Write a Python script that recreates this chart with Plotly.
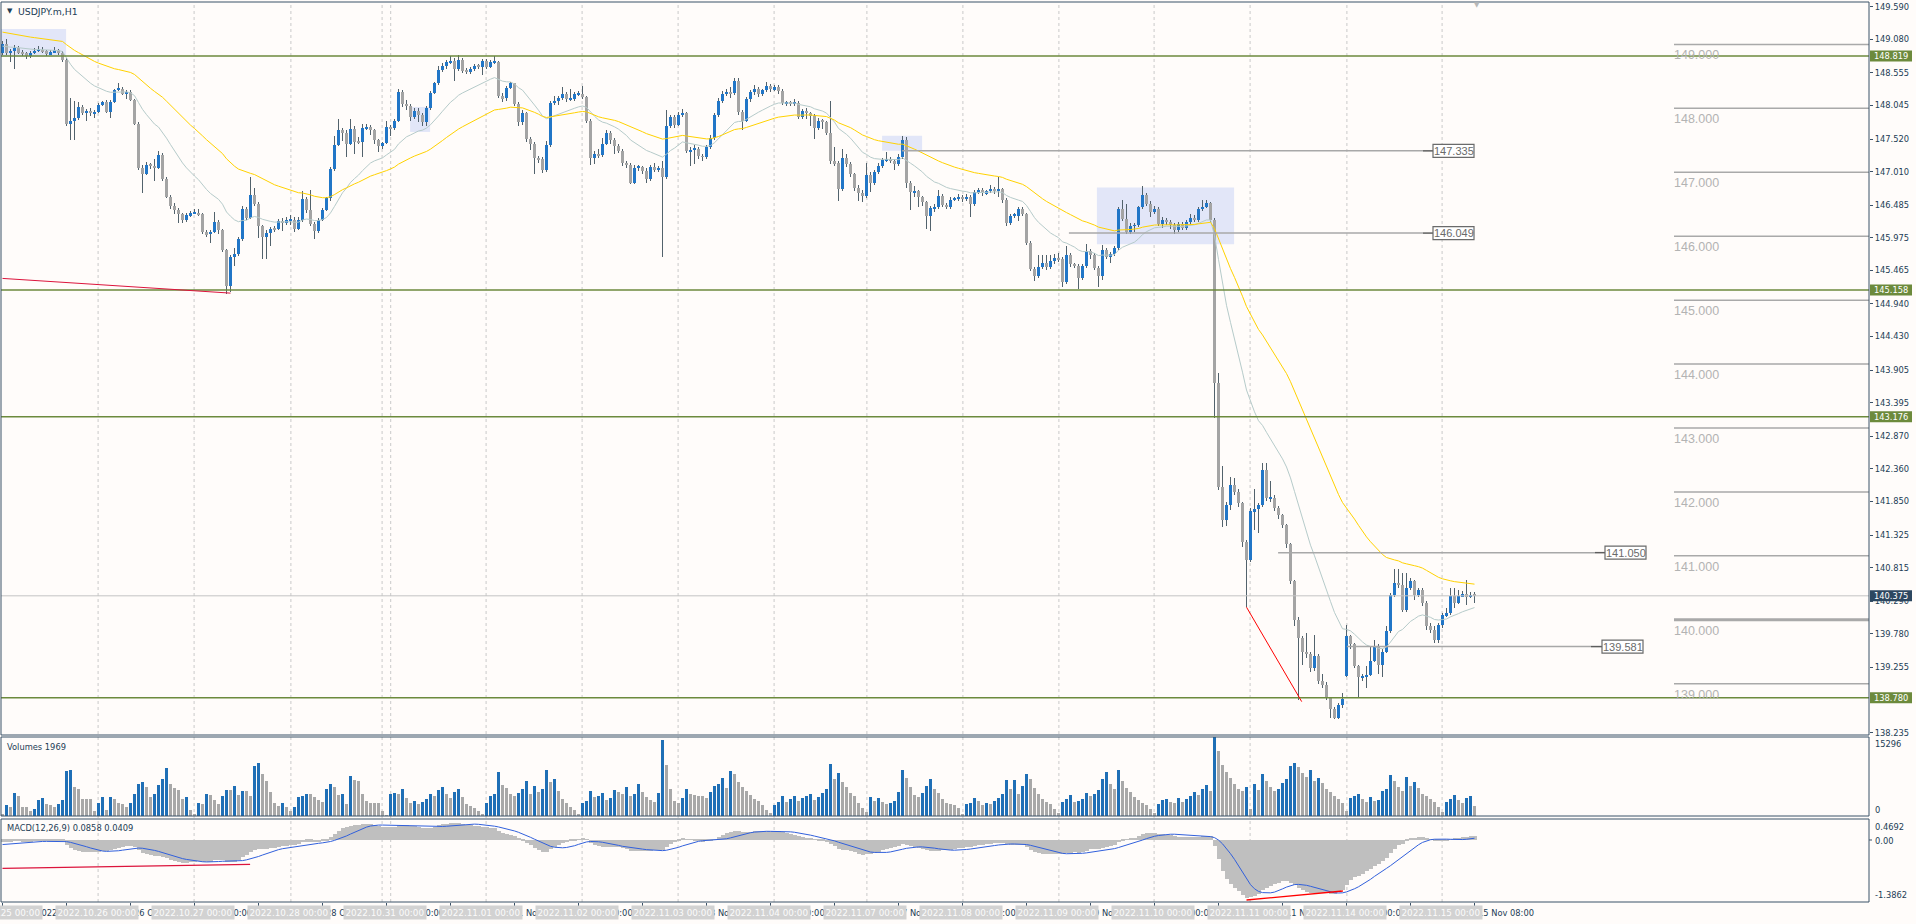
import plotly.graph_objects as go

# ------------------------------------------------------------------ data
trade_days = ["2022-10-25", "2022-10-26", "2022-10-27", "2022-10-28", "2022-10-31",
              "2022-11-01", "2022-11-02", "2022-11-03", "2022-11-04", "2022-11-07",
              "2022-11-08", "2022-11-09", "2022-11-10", "2022-11-11", "2022-11-14",
              "2022-11-15"]
bars_per_day = 24
symbol_title = "USDJPY.m,H1"

first_open = 148.87
open_gaps = {336: 139.12}

close = [
    149.00, 148.87, 148.90, 148.94, 148.87, 148.86, 148.82, 148.87, 148.90, 148.92, 148.89, 148.85,
    148.88, 148.91, 148.86, 148.75, 147.76, 147.81, 147.85, 148.02, 147.93, 147.96, 147.92, 147.95,
    148.05, 148.10, 147.95, 148.10, 148.29, 148.30, 148.23, 148.26, 148.13, 147.76, 147.07, 146.97,
    147.12, 147.10, 147.07, 147.27, 146.89, 146.62, 146.48, 146.41, 146.34, 146.25, 146.33, 146.36,
    146.37, 146.34, 146.06, 146.03, 146.07, 146.23, 146.10, 145.78, 145.22, 145.68, 145.72, 145.95,
    146.43, 146.29, 146.64, 146.51, 146.16, 145.98, 146.05, 146.12, 146.11, 146.24, 146.20, 146.25,
    146.26, 146.12, 146.25, 146.58, 146.41, 146.19, 146.08, 146.26, 146.41, 146.59, 147.05, 147.43,
    147.66, 147.62, 147.45, 147.68, 147.48, 147.47, 147.69, 147.71, 147.66, 147.50, 147.41, 147.46,
    147.71, 147.69, 147.80, 148.26, 148.07, 148.04, 147.86, 147.96, 147.90, 147.78, 148.00, 148.24,
    148.39, 148.60, 148.66, 148.72, 148.74, 148.62, 148.76, 148.59, 148.57, 148.62, 148.67, 148.65,
    148.74, 148.65, 148.72, 148.72, 148.19, 148.16, 148.32, 148.39, 148.07, 147.78, 147.92, 147.52,
    147.45, 147.22, 147.20, 147.03, 147.43, 148.09, 148.11, 148.16, 148.22, 148.14, 148.15, 148.22,
    148.23, 148.17, 147.81, 147.22, 147.29, 147.27, 147.45, 147.61, 147.50, 147.41, 147.33, 147.15,
    147.11, 146.84, 147.07, 147.08, 147.02, 146.89, 147.09, 147.04, 147.07, 146.93, 147.73, 147.87,
    147.74, 147.90, 147.92, 147.33, 147.35, 147.37, 147.25, 147.24, 147.39, 147.54, 147.89, 148.11,
    148.22, 148.26, 148.24, 148.43, 147.95, 147.81, 148.14, 148.25, 148.30, 148.22, 148.28, 148.35,
    148.30, 148.33, 148.27, 148.08, 148.09, 148.07, 148.09, 147.86, 147.96, 147.92, 147.88, 147.70,
    147.80, 147.79, 147.62, 147.17, 147.14, 146.74, 147.22, 147.13, 146.97, 146.76, 146.67, 146.63,
    146.96, 146.83, 147.00, 147.10, 147.19, 147.21, 147.17, 147.13, 147.24, 147.50, 146.84, 146.69,
    146.70, 146.61, 146.53, 146.31, 146.44, 146.45, 146.63, 146.49, 146.46, 146.57, 146.58, 146.62,
    146.58, 146.62, 146.50, 146.69, 146.72, 146.67, 146.70, 146.74, 146.70, 146.74, 146.57, 146.20,
    146.32, 146.32, 146.42, 146.35, 145.89, 145.49, 145.37, 145.52, 145.58, 145.52, 145.62, 145.66,
    145.64, 145.28, 145.71, 145.56, 145.54, 145.34, 145.54, 145.77, 145.70, 145.51, 145.37, 145.78,
    145.67, 145.72, 145.81, 146.42, 146.27, 146.07, 146.16, 146.17, 146.45, 146.65, 146.51, 146.38,
    146.43, 146.19, 146.26, 146.22, 146.17, 146.09, 146.19, 146.13, 146.22, 146.29, 146.25, 146.42,
    146.46, 146.52, 146.25, 143.70, 142.08, 141.56, 141.79, 142.11, 142.00, 141.82, 141.21, 140.94,
    141.70, 141.73, 141.79, 142.35, 141.90, 141.90, 141.75, 141.64, 141.48, 141.18, 140.60, 139.99,
    139.71, 139.49, 139.47, 139.24, 139.43, 139.05, 138.98, 138.78, 138.61, 138.47, 138.66, 138.76,
    139.75, 139.62, 139.27, 139.10, 139.12, 139.14, 139.36, 139.58, 139.29, 139.50, 139.82, 140.39,
    140.57, 140.55, 140.15, 140.49, 140.60, 140.39, 140.46, 140.26, 139.90, 139.84, 139.68, 139.92,
    140.07, 140.10, 140.37, 140.27, 140.37, 140.40, 140.37, 140.39, 140.375,
]

high = [
    149.05, 149.08, 148.93, 148.99, 148.98, 148.92, 148.88, 148.90, 148.94, 148.97, 148.96, 148.91,
    148.92, 148.96, 148.93, 148.89, 148.78, 148.16, 148.12, 148.10, 148.06, 147.99, 148.00, 147.98,
    148.08, 148.12, 148.13, 148.13, 148.31, 148.40, 148.33, 148.29, 148.28, 148.15, 147.78, 147.12,
    147.16, 147.15, 147.20, 147.34, 147.30, 146.92, 146.64, 146.52, 146.44, 146.36, 146.36, 146.40,
    146.43, 146.43, 146.37, 146.09, 146.09, 146.38, 146.25, 146.12, 145.80, 145.70, 145.82, 145.98,
    146.47, 146.45, 146.92, 146.76, 146.53, 146.18, 146.10, 146.15, 146.16, 146.27, 146.28, 146.30,
    146.33, 146.30, 146.30, 146.70, 146.62, 146.73, 146.22, 146.29, 146.44, 146.62, 147.08, 147.57,
    147.84, 147.70, 147.66, 147.84, 147.72, 147.55, 147.75, 147.75, 147.74, 147.68, 147.52, 147.48,
    147.80, 147.74, 147.84, 148.31, 148.28, 148.13, 148.07, 148.00, 148.00, 147.93, 148.04, 148.27,
    148.42, 148.66, 148.71, 148.76, 148.82, 148.78, 148.83, 148.78, 148.63, 148.65, 148.70, 148.70,
    148.77, 148.77, 148.76, 148.82, 148.74, 148.24, 148.35, 148.42, 148.40, 148.10, 147.98, 147.95,
    147.55, 147.48, 147.26, 147.24, 147.49, 148.12, 148.20, 148.20, 148.33, 148.25, 148.30, 148.26,
    148.27, 148.35, 148.20, 147.84, 147.33, 147.36, 147.54, 147.66, 147.64, 147.53, 147.44, 147.36,
    147.17, 147.14, 147.11, 147.12, 147.10, 147.06, 147.12, 147.14, 147.10, 147.17, 147.97, 147.90,
    147.90, 147.95, 147.99, 147.95, 147.40, 147.42, 147.40, 147.28, 147.42, 147.58, 147.92, 148.16,
    148.27, 148.30, 148.33, 148.47, 148.47, 147.97, 148.18, 148.29, 148.36, 148.33, 148.31, 148.41,
    148.38, 148.37, 148.36, 148.30, 148.12, 148.12, 148.14, 148.12, 147.99, 148.00, 147.94, 147.91,
    147.85, 147.83, 147.81, 148.12, 147.39, 147.18, 147.36, 147.28, 147.16, 146.99, 146.80, 146.72,
    147.15, 147.00, 147.03, 147.14, 147.22, 147.31, 147.24, 147.20, 147.28, 147.56, 147.55, 146.87,
    146.78, 146.73, 146.63, 146.55, 146.47, 146.50, 146.73, 146.66, 146.52, 146.61, 146.62, 146.66,
    146.65, 146.66, 146.64, 146.73, 146.76, 146.75, 146.73, 146.80, 146.77, 146.93, 146.76, 146.60,
    146.35, 146.36, 146.45, 146.45, 146.37, 145.92, 145.52, 145.71, 145.70, 145.70, 145.70, 145.72,
    145.73, 145.68, 145.85, 145.74, 145.58, 145.57, 145.57, 145.88, 145.80, 145.73, 145.54, 145.87,
    145.82, 145.76, 145.85, 146.45, 146.56, 146.51, 146.21, 146.20, 146.48, 146.78, 146.67, 146.55,
    146.48, 146.46, 146.30, 146.29, 146.25, 146.20, 146.22, 146.22, 146.25, 146.35, 146.33, 146.45,
    146.56, 146.57, 146.54, 146.28, 143.86, 142.40, 141.85, 142.23, 142.22, 142.05, 141.85, 141.25,
    141.75, 142.05, 141.83, 142.45, 142.45, 142.17, 141.95, 141.78, 141.66, 141.50, 141.20, 140.62,
    140.04, 139.75, 139.79, 139.50, 139.76, 139.46, 139.15, 139.02, 138.80, 138.63, 138.70, 138.85,
    139.92, 139.76, 139.64, 139.30, 139.16, 139.27, 139.58, 139.68, 139.62, 139.55, 139.90, 140.42,
    140.80, 140.80, 140.73, 140.73, 140.66, 140.63, 140.50, 140.49, 140.29, 139.95, 139.90, 139.95,
    140.10, 140.18, 140.49, 140.49, 140.47, 140.45, 140.63, 140.43, 140.44,
]

low = [
    148.84, 148.84, 148.73, 148.61, 148.85, 148.82, 148.77, 148.79, 148.85, 148.88, 148.86, 148.82,
    148.83, 148.86, 148.83, 148.72, 147.72, 147.50, 147.50, 147.82, 147.90, 147.80, 147.88, 147.85,
    147.93, 148.03, 147.93, 147.85, 148.08, 148.27, 148.21, 148.14, 148.11, 147.74, 147.04, 146.68,
    146.95, 147.05, 146.86, 147.05, 146.86, 146.59, 146.43, 146.34, 146.21, 146.21, 146.22, 146.30,
    146.34, 146.32, 146.03, 145.98, 145.90, 146.05, 146.04, 145.75, 145.09, 145.12, 145.53, 145.69,
    145.92, 146.26, 146.27, 146.48, 145.97, 145.64, 145.65, 145.85, 146.07, 146.09, 146.08, 146.17,
    146.17, 146.06, 146.10, 146.22, 146.37, 146.16, 145.96, 146.05, 146.24, 146.39, 146.55, 147.02,
    147.41, 147.49, 147.24, 147.43, 147.29, 147.44, 147.24, 147.66, 147.58, 147.45, 147.32, 147.37,
    147.44, 147.56, 147.66, 147.78, 148.02, 147.98, 147.80, 147.83, 147.78, 147.72, 147.72, 147.98,
    148.22, 148.37, 148.57, 148.61, 148.69, 148.43, 148.58, 148.55, 148.53, 148.54, 148.58, 148.61,
    148.52, 148.62, 148.63, 148.70, 148.16, 148.10, 148.12, 148.30, 148.04, 147.72, 147.74, 147.47,
    147.35, 146.97, 147.14, 146.99, 147.00, 147.40, 148.05, 148.06, 148.13, 148.10, 148.12, 148.12,
    148.19, 148.15, 147.77, 147.12, 147.13, 147.22, 147.24, 147.42, 147.45, 147.28, 147.30, 147.10,
    147.06, 146.82, 146.82, 147.02, 146.98, 146.84, 146.87, 147.00, 147.01, 145.68, 146.90, 147.70,
    147.70, 147.72, 147.86, 147.30, 147.10, 147.13, 147.20, 147.17, 147.21, 147.36, 147.50, 147.86,
    148.08, 148.19, 148.16, 148.21, 147.90, 147.66, 147.78, 148.10, 148.21, 148.18, 148.19, 148.25,
    148.26, 148.27, 148.23, 148.05, 148.04, 148.03, 148.04, 147.83, 147.83, 147.84, 147.73, 147.52,
    147.66, 147.68, 147.58, 147.13, 147.10, 146.55, 146.70, 147.08, 146.92, 146.71, 146.55, 146.54,
    146.60, 146.69, 146.80, 146.97, 147.07, 147.16, 147.14, 147.04, 147.10, 147.21, 146.76, 146.41,
    146.62, 146.46, 146.47, 146.11, 146.08, 146.38, 146.42, 146.45, 146.42, 146.43, 146.55, 146.55,
    146.54, 146.55, 146.30, 146.47, 146.66, 146.63, 146.64, 146.67, 146.66, 146.62, 146.52, 146.16,
    146.18, 146.28, 146.24, 146.32, 145.86, 145.45, 145.30, 145.34, 145.49, 145.47, 145.49, 145.56,
    145.60, 145.20, 145.25, 145.52, 145.50, 145.17, 145.31, 145.51, 145.65, 145.47, 145.20, 145.32,
    145.64, 145.58, 145.69, 145.78, 146.24, 146.04, 146.04, 146.07, 146.15, 146.43, 146.48, 146.30,
    146.35, 146.16, 146.13, 146.18, 146.12, 146.04, 146.06, 146.10, 146.10, 146.19, 146.22, 146.22,
    146.40, 146.44, 146.22, 143.16, 142.03, 141.45, 141.46, 141.72, 141.95, 141.77, 141.14, 140.20,
    140.91, 141.41, 141.35, 141.76, 141.86, 141.85, 141.70, 141.58, 141.43, 141.13, 140.56, 139.90,
    138.75, 139.30, 139.40, 139.18, 139.20, 139.00, 138.93, 138.74, 138.46, 138.45, 138.45, 138.62,
    139.10, 139.55, 139.24, 138.80, 139.05, 138.93, 139.12, 139.34, 139.16, 139.11, 139.48, 139.80,
    140.36, 140.50, 140.12, 140.12, 140.46, 140.31, 140.36, 140.22, 139.84, 139.80, 139.64, 139.64,
    139.87, 140.04, 140.07, 140.19, 140.24, 140.35, 140.23, 140.34, 140.27,
]

volume = [
    458, 2072, 1749, 4459, 3814, 1749, 1749, 975, 1426, 3040, 3491, 2394, 2072, 1749, 2394, 3040,
    8653, 8847, 5621, 5298, 3362, 3233, 3233, 975,
    2588, 3685, 1233, 3685, 3362, 2523, 2394, 1749, 2523, 4330, 6137, 6589, 5621, 3685, 4330, 5943,
    7105, 9364, 6266, 5492, 5105, 3362, 3685, 1103,
    329, 2588, 2265, 4330, 4137, 3169, 2265, 3814, 4975, 4975, 5750, 4008, 4782, 4782, 3814, 9622,
    10267, 8202, 6782, 4653, 2523, 1878, 2523, 1749,
    975, 1749, 3685, 3814, 4330, 4330, 3685, 3040, 2717, 5298, 6137, 5621, 4008, 4330, 2394, 7686,
    6911, 6782, 4330, 2910, 2523, 2523, 2523, 975,
    135, 4330, 4459, 4330, 5200, 3500, 2600, 3000, 2400, 2800, 3300, 4200, 3800, 5000, 5600, 4200,
    3400, 4700, 5200, 3600, 2300, 2000, 1600, 900,
    300, 2500, 3800, 4200, 8500, 6000, 5500, 4200, 3800, 4400, 5200, 6800, 4200, 5800, 4600, 5200,
    9000, 6500, 7200, 4800, 3300, 2600, 1800, 1200,
    400, 2600, 2900, 4800, 3600, 3800, 4400, 3100, 3500, 5100, 4600, 4200, 5600, 3900, 4200, 6200,
    4700, 3600, 3100, 2800, 4400, 14800, 9800, 5200,
    3000, 2500, 3400, 5200, 4300, 4100, 3900, 3800, 3400, 4600, 5800, 6200, 7300, 5400, 8800, 8200,
    6500, 5600, 4900, 4100, 3300, 2900, 2100, 1200,
    500, 2200, 2800, 3900, 2700, 3300, 3900, 3000, 3400, 3800, 4200, 3100, 3700, 4500, 5300, 10000,
    7200, 8400, 6600, 5600, 4400, 3800, 2600, 1500,
    700, 3600, 2900, 3400, 2800, 2300, 2600, 3000, 4600, 9000, 7400, 5600, 4100, 3600, 4500, 5800,
    7100, 5200, 4500, 3300, 2600, 2300, 2100, 1500,
    400, 2300, 2600, 3400, 2900, 2200, 2600, 2400, 2900, 3400, 4200, 6900, 5300, 7000, 4200, 5800,
    8200, 7100, 5400, 4200, 3300, 2800, 2300, 1400,
    600, 2800, 3300, 4100, 2700, 2900, 3200, 4400, 3800, 4200, 5100, 7200, 8600, 6200, 5300, 9000,
    6800, 5400, 4600, 3700, 3100, 2600, 2100, 1300,
    600, 2400, 3100, 3300, 2800, 2600, 3500, 2700, 3200, 3900, 4600, 4100, 5200, 6100, 4800, 15296,
    12500, 9800, 8600, 7400, 6200, 5200, 4800, 5600,
    1400, 6200, 5100, 8200, 6800, 5600, 4900, 5300, 6400, 7200, 9600, 10200, 9400, 8300, 7600, 8900,
    6800, 7400, 6300, 5300, 4600, 3900, 3300, 2500,
    900, 3400, 3800, 4300, 3300, 2800, 3600, 2900, 3100, 4800, 5200, 7900, 6800, 5600, 4900, 7600,
    5900, 6600, 5400, 4300, 3800, 3300, 2800, 1800,
    700, 2800, 3300, 4100, 3100, 2600, 3400, 3800, 1969,
]

# indicator settings (values at chart start)
ma_fast_period, ma_fast_start = 20, 148.97
ma_slow_period, ma_slow_start = 50, 149.20
macd_fast, macd_slow, macd_signal_len = 12, 26, 9
macd_fast_start, macd_slow_start, macd_signal_start = 148.90, 148.95, -0.11

# axes / labels
price_ticks = [149.590, 149.080, 148.555, 148.045, 147.520, 147.010, 146.485, 145.975, 145.465,
               144.940, 144.430, 143.905, 143.395, 142.870, 142.360, 141.850, 141.325, 140.815,
               140.290, 139.780, 139.255, 138.745, 138.235]
price_range = [138.198, 149.6635]
volume_top_label = 15296
macd_range = [-1.3862, 0.4692]
volume_label = "Volumes 1969"
macd_label = "MACD(12,26,9) 0.0858 0.0409"

# drawn objects
green_levels = [148.819, 145.158, 143.176, 138.780]
last_price = 140.375
round_levels = [149.0, 148.0, 147.0, 146.0, 145.0, 144.0, 143.0, 142.0, 141.0, 140.0, 139.0]
boxed_levels = [147.335, 146.049, 141.050, 139.581]
boxed_from = [224.9, 266.6, 318.9, 336.1]      # bar index where the line starts
boxed_to_px = [1423, 1423, 1595, 1591]         # pixel where the light line ends
boxed_box_px = [1433, 1433, 1605, 1602]        # pixel of the label box
rect_x0 = [-0.625, 273.6, 219.9, 101.9]
rect_x1 = [15.9, 307.9, 229.9, 106.9]
rect_y0 = [148.803, 145.875, 147.337, 147.631]
rect_y1 = [149.241, 146.760, 147.572, 148.022]
trend_main = [(0.0, 145.34, 57.0, 145.11, "#dc143c"), (311.0, 140.197, 324.8, 138.72, "#ff0000")]
trend_macd = [(0.0, -0.633, 61.9, -0.544, "#dc143c"), (311.0, -1.342, 335.1, -1.140, "#ff0000")]
grid_x = [23.9, 47.9, 72.1, 94.9, 97.05, 120.9, 144.9, 168.9, 192.9, 216.1, 240.1, 264.1,
          287.9, 311.9, 336.1, 359.9]
x_tick_step = 16
months = ["Jan", "Feb", "Mar", "Apr", "May", "Jun", "Jul", "Aug", "Sep", "Oct", "Nov", "Dec"]

# ------------------------------------------------------------------ style
BG = "#fffcfa"
AX = "#3b5268"
TXT = "#233d56"
BLUE = "#2176c7"
GRAY = "#a4a4a4"
WICK = "#52626c"
VBLUE = "#1f6fb6"
VGRAY = "#a8a8a8"
GREEN = "#6c8a3c"
FONT = "DejaVu Sans"

W, H = 1916, 924
PL, PR, PT, PB = 1, 1869, 2, 902          # plot area in pixels
MAIN_BOT, VOL_TOP, VOL_BOT, MACD_TOP = 735, 737, 816, 819


def xp(px):
    return (px - PL) / (PR - PL)


def yp(py):
    return (PB - py) / (PB - PT)


def price_py(p):
    return PT + (price_range[1] - p) / (price_range[1] - price_range[0]) * (MAIN_BOT - PT)


x_range = [-0.375, -0.375 + (PR - PL) / 4.0]


def bar_px(i):
    return PL + (i - x_range[0]) * 4.0


# ------------------------------------------------------------------ derived series
n = min(len(close), len(high), len(low), len(volume))
close = close[:n]
opens = [first_open] + close[:-1]
for k, v in open_gaps.items():
    if k < n:
        opens[k] = v
hi = [max(high[i], opens[i], close[i]) for i in range(n)]
lo = [min(low[i], opens[i], close[i]) for i in range(n)]
xs = list(range(n))


def ema(values, period, start):
    a = 2.0 / (period + 1)
    out, prev = [], start
    for v in values:
        prev = prev + a * (v - prev)
        out.append(prev)
    return out


ma_fast = ema(close, ma_fast_period, ma_fast_start)
ma_slow = ema(close, ma_slow_period, ma_slow_start)
e_f = ema(close, macd_fast, macd_fast_start)
e_s = ema(close, macd_slow, macd_slow_start)
macd_main = [a - b for a, b in zip(e_f, e_s)]
hist = [macd_signal_start] * (macd_signal_len - 1) + macd_main
macd_sig = [sum(hist[i:i + macd_signal_len]) / macd_signal_len for i in range(n)]

body_base = [min(o, c) for o, c in zip(opens, close)]
body_h = [max(abs(c - o), 0.014) for o, c in zip(opens, close)]
body_col = [BLUE if c >= o else GRAY for o, c in zip(opens, close)]
vol_col = [VGRAY] + [VBLUE if volume[i] > volume[i - 1] else VGRAY for i in range(1, n)]

# ------------------------------------------------------------------ figure
fig = go.Figure()
# wicks
fig.add_trace(go.Bar(x=xs, y=[h - l for h, l in zip(hi, lo)], base=lo, width=0.25,
                     marker=dict(color=WICK, line=dict(width=0)), yaxis="y", hoverinfo="skip"))
# bodies
fig.add_trace(go.Bar(x=xs, y=body_h, base=body_base, width=0.75,
                     marker=dict(color=body_col, line=dict(width=0)), yaxis="y", hoverinfo="skip"))
# moving averages
fig.add_trace(go.Scatter(x=xs, y=ma_fast, mode="lines", line=dict(color="#b6cbca", width=1),
                         yaxis="y", hoverinfo="skip"))
fig.add_trace(go.Scatter(x=xs, y=ma_slow, mode="lines", line=dict(color="#ffd200", width=1),
                         yaxis="y", hoverinfo="skip"))
# volumes
fig.add_trace(go.Bar(x=xs, y=volume[:n], width=0.72, marker=dict(color=vol_col, line=dict(width=0)),
                     yaxis="y2", hoverinfo="skip"))
# MACD
fig.add_trace(go.Bar(x=xs, y=macd_main, width=1.0, marker=dict(color="#bfbfbf", line=dict(width=0)),
                     yaxis="y3", hoverinfo="skip"))
fig.add_trace(go.Scatter(x=xs, y=macd_sig, mode="lines", line=dict(color="#3160dc", width=1),
                         yaxis="y3", hoverinfo="skip"))

shapes = []
ann = []

# vertical dashed grid
for gx in grid_x:
    shapes.append(dict(type="line", xref="x", yref="paper", x0=gx, x1=gx, y0=0, y1=1,
                       line=dict(color="#c9c9c9", width=1, dash="3px,3px"), layer="below"))
# rectangles
for x0, x1, y0, y1 in zip(rect_x0, rect_x1, rect_y0, rect_y1):
    shapes.append(dict(type="rect", xref="x", yref="y", x0=x0, x1=x1, y0=y0, y1=y1,
                       fillcolor="#e2e6f8", line=dict(width=0), layer="below"))
# green horizontal levels
for lv in green_levels:
    shapes.append(dict(type="line", xref="paper", yref="y", x0=0, x1=1, y0=lv, y1=lv,
                       line=dict(color=GREEN, width=1.5)))
# last price line
shapes.append(dict(type="line", xref="paper", yref="y", x0=0, x1=1, y0=last_price, y1=last_price,
                   line=dict(color="#c3c3c3", width=1)))
# round number levels on the right
for lv in round_levels:
    shapes.append(dict(type="line", xref="paper", yref="y", x0=xp(1674), x1=1, y0=lv, y1=lv,
                       line=dict(color="#a9a9a9", width=3 if lv == 140.0 else 1.5)))
    ann.append(dict(xref="paper", yref="paper", x=xp(1672), y=yp(price_py(lv) + 2),
                    xanchor="left", yanchor="top", text=f"{lv:.3f}", showarrow=False,
                    font=dict(family="Liberation Sans", size=12.5, color="#b3b3b3")))
# boxed levels
for lv, x0, xe, xb in zip(boxed_levels, boxed_from, boxed_to_px, boxed_box_px):
    shapes.append(dict(type="line", xref="x", yref="y", x0=x0, x1=(xe - bar_px(0)) / 4.0,
                       y0=lv, y1=lv, line=dict(color="#a8a8a8", width=1.5)))
    shapes.append(dict(type="line", xref="paper", yref="y", x0=xp(xe), x1=xp(xb), y0=lv, y1=lv,
                       line=dict(color="#5d5d5d", width=1.5)))
    py = price_py(lv)
    shapes.append(dict(type="rect", xref="paper", yref="paper", x0=xp(xb), x1=xp(xb + 41),
                       y0=yp(py + 6.5), y1=yp(py - 6.5), fillcolor="#ffffff",
                       line=dict(color="#6a6a6a", width=1.2)))
    ann.append(dict(xref="paper", yref="paper", x=xp(xb + 20.5), y=yp(py), xanchor="center",
                    yanchor="middle", text=f"{lv:.3f}", showarrow=False,
                    font=dict(family="Liberation Sans", size=11, color="#6a6a6a")))
# trend lines
for x0, y0, x1, y1, c in trend_main:
    shapes.append(dict(type="line", xref="x", yref="y", x0=x0, y0=y0, x1=x1, y1=y1,
                       line=dict(color=c, width=1)))
for x0, y0, x1, y1, c in trend_macd:
    shapes.append(dict(type="line", xref="x", yref="y3", x0=x0, y0=y0, x1=x1, y1=y1,
                       line=dict(color=c, width=1.3)))
# panel borders
for top, bot in [(PT, MAIN_BOT), (VOL_TOP, VOL_BOT), (MACD_TOP, PB)]:
    shapes.append(dict(type="rect", xref="paper", yref="paper", x0=0, x1=1, y0=yp(bot), y1=yp(top),
                       line=dict(color=AX, width=1), fillcolor="rgba(0,0,0,0)"))
# price labels with backgrounds on the axis
for lv, col in [(g, GREEN) for g in green_levels] + [(last_price, "#2c4760")]:
    py = price_py(lv)
    shapes.append(dict(type="rect", xref="paper", yref="paper", x0=xp(1870), x1=xp(1912),
                       y0=yp(py + 5.5), y1=yp(py - 5.5), fillcolor=col, line=dict(width=0)))
    ann.append(dict(xref="paper", yref="paper", x=xp(1891), y=yp(py), xanchor="center",
                    yanchor="middle", text=f"{lv:.3f}", showarrow=False,
                    font=dict(family=FONT, size=8.3, color="#ffffff")))
# small tick for MACD zero
shapes.append(dict(type="line", xref="paper", yref="y3", x0=1, x1=xp(PR + 3), y0=0, y1=0,
                   line=dict(color=AX, width=1)))

# sub-window side labels
for txt, py in [(str(volume_top_label), 744), ("0", 810), (f"{macd_range[1]:.4f}", 827),
                ("0.00", 841), (f"{macd_range[0]:.4f}", 895)]:
    ann.append(dict(xref="paper", yref="paper", x=xp(1873), y=yp(py), xanchor="left",
                    yanchor="middle", text=txt, showarrow=False,
                    font=dict(family=FONT, size=8.3, color=TXT)))
# window titles
ann.append(dict(xref="paper", yref="paper", x=xp(5), y=yp(11), xanchor="left", yanchor="middle",
                text="▼", showarrow=False, font=dict(family=FONT, size=7, color=TXT)))
ann.append(dict(xref="paper", yref="paper", x=xp(16), y=yp(11), xanchor="left", yanchor="middle",
                text=symbol_title, showarrow=False, font=dict(family=FONT, size=9.3, color=TXT)))
ann.append(dict(xref="paper", yref="paper", x=xp(5), y=yp(747), xanchor="left", yanchor="middle",
                text=volume_label, showarrow=False, font=dict(family=FONT, size=8.3, color=TXT)))
ann.append(dict(xref="paper", yref="paper", x=xp(5), y=yp(828), xanchor="left", yanchor="middle",
                text=macd_label, showarrow=False, font=dict(family=FONT, size=8.3, color=TXT)))
# chart shift marker
ann.append(dict(xref="paper", yref="paper", x=xp(bar_px(n - 1) + 2), y=yp(5), xanchor="center",
                yanchor="middle", text="▼", showarrow=False,
                font=dict(family=FONT, size=7, color="#b8b8b8")))

# time axis: terminal labels, then the date boxes on top
tick_vals = list(range(0, n, x_tick_step))
for i in tick_vals:
    d = trade_days[i // bars_per_day]
    yy, mm, dd = d.split("-")
    if i == 0:
        txt = f"{int(dd)} {months[int(mm) - 1]} {yy}"
    else:
        txt = f"{int(dd)} {months[int(mm) - 1]} {i % bars_per_day:02d}:00"
    ann.append(dict(xref="paper", yref="paper", x=xp(bar_px(i) + 1), y=yp(913), xanchor="left",
                    yanchor="middle", text=txt, showarrow=False,
                    font=dict(family=FONT, size=8.3, color=TXT)))
for k, d in enumerate(trade_days):
    i = k * bars_per_day
    yy, mm, dd = d.split("-")
    ann.append(dict(xref="paper", yref="paper", x=xp(bar_px(i) - 1.5), y=yp(913), xanchor="center",
                    yanchor="middle", text=f"{yy}.{mm}.{dd} 00:00", showarrow=False,
                    bgcolor="#d2d2d2", borderpad=1.5,
                    font=dict(family=FONT, size=8.8, color="#fbfbfb")))

fig.update_layout(
    width=W, height=H, margin=dict(l=PL, r=W - PR, t=PT, b=H - PB),
    paper_bgcolor=BG, plot_bgcolor=BG, showlegend=False, barmode="overlay", bargap=0,
    shapes=shapes, annotations=ann,
    xaxis=dict(domain=[0, 1], range=x_range, anchor="y3", showgrid=False, zeroline=False,
               showline=False, ticks="outside", ticklen=4, tickcolor=AX, tickvals=tick_vals,
               showticklabels=False, fixedrange=True),
    yaxis=dict(domain=[yp(MAIN_BOT), yp(PT)], range=price_range, side="right", anchor="x",
               showgrid=False, zeroline=False, showline=False, ticks="outside", ticklen=3,
               tickcolor=AX, tickvals=price_ticks, ticktext=[f"{t:.3f}" for t in price_ticks],
               tickfont=dict(family=FONT, size=8.3, color=TXT), fixedrange=True),
    yaxis2=dict(domain=[yp(VOL_BOT), yp(VOL_TOP)], range=[0, volume_top_label], side="right",
                anchor="x", showgrid=False, zeroline=False, showline=False, showticklabels=False,
                fixedrange=True),
    yaxis3=dict(domain=[yp(PB), yp(MACD_TOP)], range=macd_range, side="right", anchor="x",
                showgrid=False, zeroline=False, showline=False, showticklabels=False,
                fixedrange=True),
)

fig.write_html("out.html", config={"displayModeBar": False},
               post_script="document.body.style.margin='0';document.body.style.padding='0';"
                           "document.body.style.overflow='hidden';"
                           "document.body.style.background='" + BG + "';")
